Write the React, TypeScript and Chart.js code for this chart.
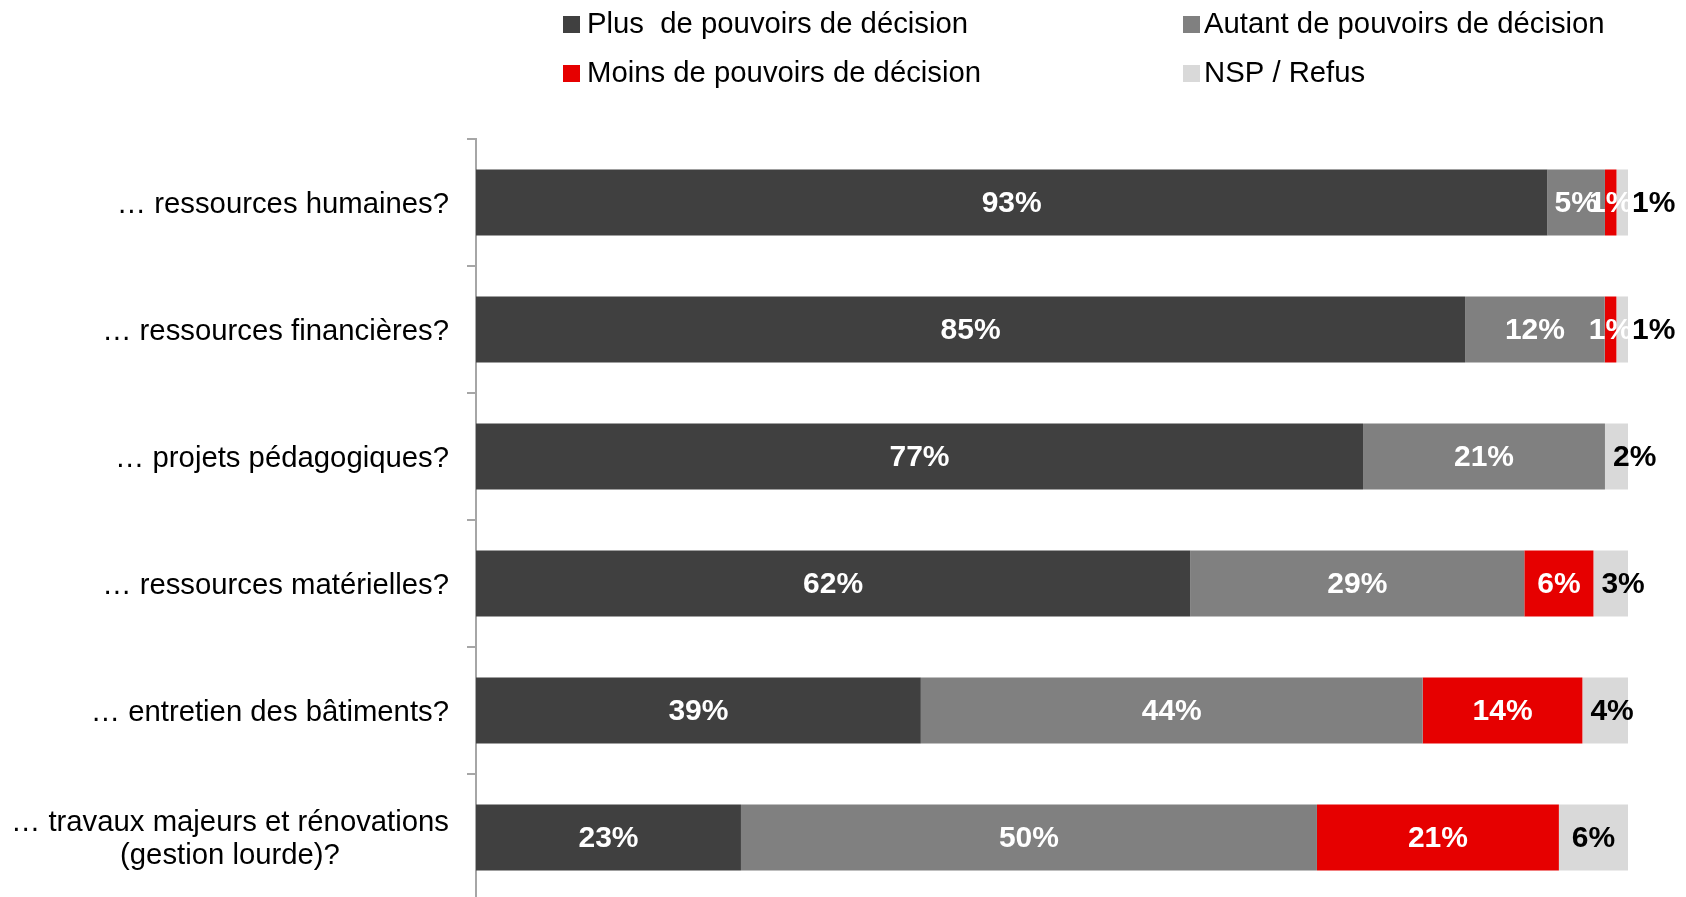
import React, { useEffect, useRef } from "react";
import { Chart, registerables } from "chart.js";

Chart.register(...registerables);

const categories: (string | string[])[] = [
  "… ressources humaines?",
  "… ressources financières?",
  "… projets pédagogiques?",
  "… ressources matérielles?",
  "… entretien des bâtiments?",
  ["… travaux majeurs et rénovations", "(gestion lourde)?"],
];

const seriesNames = [
  "Plus  de pouvoirs de décision",
  "Autant de pouvoirs de décision",
  "Moins de pouvoirs de décision",
  "NSP / Refus",
];

const plusValues = [93, 85, 77, 62, 39, 23];
const autantValues = [5, 12, 21, 29, 44, 50];
const moinsValues = [1, 1, 0, 6, 14, 21];
const nspValues = [1, 1, 2, 3, 4, 6];

const seriesColors = ["#404040", "#808080", "#E60000", "#D9D9D9"];
const labelColors = ["#FFFFFF", "#FFFFFF", "#FFFFFF", "#000000"];

const FONT = '"Liberation Sans", Arial, sans-serif';

const allSeries = [plusValues, autantValues, moinsValues, nspValues];
const totals = categories.map((_, i) => allSeries.reduce((s, arr) => s + arr[i], 0));

const customPlugin = {
  id: "customDraw",
  afterDatasetsDraw(chart: any) {
    const ctx = chart.ctx as CanvasRenderingContext2D;
    const yScale = chart.scales.y;
    ctx.save();
    // data labels
    ctx.font = `bold 30px ${FONT}`;
    ctx.textBaseline = "middle";
    chart.data.datasets.forEach((ds: any, di: number) => {
      const meta = chart.getDatasetMeta(di);
      meta.data.forEach((el: any, i: number) => {
        const raw = allSeries[di][i];
        if (!raw) return;
        const { x, base, y } = el.getProps(["x", "base", "y"], true);
        const text = `${raw}%`;
        const tw = ctx.measureText(text).width;
        const w = x - base;
        const center = (x + base) / 2;
        let left = center - tw / 2;
        if (di === 3) {
          if (w < 20) left = x + 4;
          else left = Math.max(center - tw / 2, base + 8);
        }
        ctx.fillStyle = labelColors[di];
        ctx.textAlign = "left";
        ctx.fillText(text, left, y + 1);
      });
    });

    // category labels
    ctx.font = `29.3px ${FONT}`;
    ctx.fillStyle = "#000000";
    const rightEdge = 449;
    categories.forEach((cat, i) => {
      const yc = yScale.getPixelForValue(i);
      const lines = Array.isArray(cat) ? cat : [cat];
      const widths = lines.map((l) => ctx.measureText(l).width);
      const maxW = Math.max(...widths);
      const mid = rightEdge - maxW / 2;
      const lh = 33;
      lines.forEach((l, li) => {
        const ly = yc + (li - (lines.length - 1) / 2) * lh;
        ctx.textAlign = "center";
        ctx.fillText(l, mid, ly + 2);
      });
    });

    // legend
    const legendItems = [
      { i: 0, x: 563, y: 24, gap: 24 },
      { i: 1, x: 1183, y: 24, gap: 21 },
      { i: 2, x: 563, y: 73, gap: 24 },
      { i: 3, x: 1183, y: 73, gap: 21 },
    ];
    ctx.font = `29.3px ${FONT}`;
    ctx.textAlign = "left";
    legendItems.forEach((it) => {
      ctx.fillStyle = seriesColors[it.i];
      ctx.fillRect(it.x, it.y - 8, 17, 17);
      ctx.fillStyle = "#000000";
      ctx.fillText(seriesNames[it.i], it.x + it.gap, it.y + 1);
    });
    ctx.restore();
  },
};

export default function App() {
  const canvasRef = useRef<HTMLCanvasElement | null>(null);

  useEffect(() => {
    if (!canvasRef.current) return;
    const datasets = allSeries.map((arr, di) => ({
      label: seriesNames[di],
      data: arr.map((v, i) => (v / totals[i]) * 100),
      backgroundColor: seriesColors[di],
      borderWidth: 0,
      barPercentage: 0.52,
      categoryPercentage: 1,
    }));
    const chart = new Chart(canvasRef.current, {
      type: "bar",
      data: {
        labels: categories.map((c) => (Array.isArray(c) ? c.join(" ") : c)),
        datasets,
      },
      options: {
        indexAxis: "y",
        animation: false,
        responsive: true,
        maintainAspectRatio: false,
        events: [],
        layout: { padding: { top: 139, right: 58, bottom: 4, left: 0 } },
        plugins: {
          legend: { display: false },
          tooltip: { enabled: false },
        },
        scales: {
          x: {
            stacked: true,
            min: 0,
            max: 100,
            display: false,
          },
          y: {
            stacked: true,
            offset: true,
            ticks: { display: false },
            grid: {
              display: true,
              drawOnChartArea: false,
              drawTicks: true,
              tickLength: 9,
              offset: true,
              color: "#A6A6A6",
              lineWidth: 2,
            },
            border: { display: true, color: "#A6A6A6", width: 2 },
            afterFit: (scale: any) => {
              scale.width = 476;
            },
          },
        },
      },
      plugins: [customPlugin],
    });
    return () => chart.destroy();
  }, []);

  return (
    <div
      style={{
        position: "fixed",
        left: 0,
        top: 0,
        width: 1686,
        height: 897,
        overflow: "hidden",
        background: "#FFFFFF",
      }}
    >
      <div style={{ position: "relative", width: 1686, height: 905 }}>
        <canvas ref={canvasRef} />
      </div>
    </div>
  );
}
